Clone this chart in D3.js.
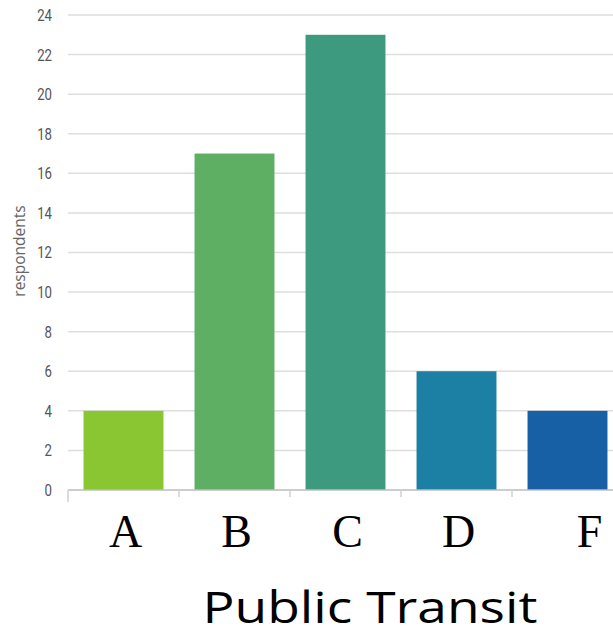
<!DOCTYPE html>
<html><head><meta charset="utf-8">
<script src="https://cdn.jsdelivr.net/npm/d3@7"></script>
<style>html,body{margin:0;padding:0;background:#fff;}</style>
</head><body>
<svg id="chart" width="613" height="642"></svg>
<script>
const categories = ["A", "B", "C", "D", "F"];
const values = [4, 17, 23, 6, 4];
const barColors = ["#89c632", "#5eae63", "#3e9a7e", "#1b80a4", "#1760a5"];
const yTicks = [0, 2, 4, 6, 8, 10, 12, 14, 16, 18, 20, 22, 24];
const yLabel = "respondents";
const title = "Public Transit";

const svg = d3.select("#chart");
const x = d3.scaleBand().domain(categories).range([68, 623]).paddingInner(0.28).paddingOuter(0.14);
const y = d3.scaleLinear().domain([0, 24]).range([490, 15]);

// gridlines
svg.append("g").selectAll("line").data(yTicks.filter(d => d > 0)).join("line")
  .attr("x1", 68).attr("x2", 613)
  .attr("y1", d => y(d)).attr("y2", d => y(d))
  .attr("stroke", "#dedede").attr("stroke-width", 1.5);

// y tick labels (condensed)
svg.append("g").selectAll("text").data(yTicks).join("text")
  .attr("transform", d => `translate(52,${y(d)}) scale(0.8,1)`)
  .attr("dy", "0.36em")
  .attr("text-anchor", "end")
  .attr("font-family", "Roboto, sans-serif")
  .attr("font-size", 16.5).attr("fill", "#555")
  .text(d => d);

// y axis label
svg.append("text")
  .attr("transform", "translate(25,251) rotate(-90)")
  .attr("text-anchor", "middle")
  .attr("font-family", "Open Sans, sans-serif")
  .attr("font-size", 15.5).attr("fill", "#666")
  .text(yLabel);

// bars
svg.append("g").selectAll("rect").data(categories).join("rect")
  .attr("x", d => x(d)).attr("width", x.bandwidth())
  .attr("y", (d, i) => y(values[i]))
  .attr("height", (d, i) => y(0) - y(values[i]))
  .attr("fill", (d, i) => barColors[i]);

// x axis line
svg.append("line").attr("x1", 68).attr("x2", 613).attr("y1", y(0)).attr("y2", y(0))
  .attr("stroke", "#bdbdbd").attr("stroke-width", 1.5);
// band boundary ticks
const boundaries = categories.map(c => x(c) - x.step() * x.paddingInner() / 2);
svg.append("g").selectAll("line").data(boundaries).join("line")
  .attr("x1", d => d).attr("x2", d => d)
  .attr("y1", y(0)).attr("y2", (d, i) => i === 0 ? y(0) + 12 : y(0) + 7)
  .attr("stroke", "#d0d0d0").attr("stroke-width", 1.5);

// category labels
svg.append("g").selectAll("text").data(categories).join("text")
  .attr("x", (d, i) => x(d) + x.bandwidth() / 2 + 2 + (i === categories.length - 1 ? 20 : 0)).attr("y", 547)
  .attr("text-anchor", "middle")
  .attr("font-family", "Liberation Serif, Times New Roman, serif")
  .attr("font-size", 46).attr("fill", "#000")
  .text(d => d);

// title
svg.append("text")
  .attr("x", 370).attr("y", 623)
  .attr("text-anchor", "middle")
  .attr("font-family", "Open Sans, sans-serif")
  .attr("font-size", 43).attr("fill", "#000")
  .attr("textLength", 335).attr("lengthAdjust", "spacingAndGlyphs")
  .text(title);
</script>
</body></html>
